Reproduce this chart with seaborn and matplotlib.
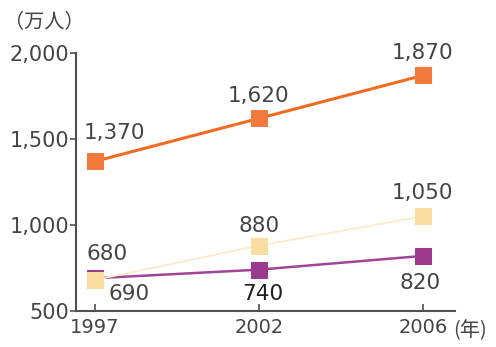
import matplotlib
matplotlib.use("Agg")
import matplotlib.pyplot as plt
import seaborn as sns
import pandas as pd

years = ["1997", "2002", "2006"]
series_a = [1370, 1620, 1870]
series_b = [680, 880, 1050]
series_c = [690, 740, 820]
y_ticks = [500, 1000, 1500, 2000]

sns.set_style("ticks")
plt.rcParams['font.family'] = ['DejaVu Sans', 'Noto Sans CJK JP']

df = pd.DataFrame({
    "year": years * 3,
    "pos": [0, 1, 2] * 3,
    "value": series_a + series_b + series_c,
    "series": ["a"] * 3 + ["b"] * 3 + ["c"] * 3,
})

colors = {"a": "#F27A3C", "b": "#F8DCA0", "c": "#9C3A8E"}
line_colors = {"a": "#F26B21", "b": "#FAEBCB", "c": "#A0449A"}
widths = {"a": 2.2, "b": 1.3, "c": 1.8}

fig = plt.figure(figsize=(4.96, 3.47), dpi=100)
ax = fig.add_axes([0.153, 0.104, 0.764, 0.743])

for s in ["c", "b", "a"]:
    sub = df[df.series == s]
    sns.lineplot(data=sub, x="pos", y="value", ax=ax, color=line_colors[s],
                 linewidth=widths[s], marker="s", markersize=11.5,
                 markerfacecolor=colors[s], markeredgecolor=colors[s], legend=False)

ax.set_xlim(-0.116, 2.195)
ax.set_ylim(500, 2000)
ax.set_xticks([0, 1, 2])
ax.set_xticklabels(years)
ax.set_yticks(y_ticks)
ax.set_yticklabels([f"{v:,}" for v in y_ticks])
ax.set_xlabel("")
ax.set_ylabel("")
for sp in ["top", "right"]:
    ax.spines[sp].set_visible(False)
for sp in ["left", "bottom"]:
    ax.spines[sp].set_color("#505050")
    ax.spines[sp].set_linewidth(1.5)
tc = "#444444"
ax.tick_params(axis="x", direction="in", length=5, width=1.2, colors="#505050",
               labelsize=14, pad=5, labelcolor=tc)
ax.tick_params(axis="y", direction="out", length=4, width=1.2, colors="#505050",
               labelsize=15, pad=1, labelcolor=tc)

fs = 15.5
px = 0.72  # pixel -> point at 100 dpi
offs_a = [(20, 28), (0, 22), (0, 22)]
offs_b = [(12, 26), (0, 20), (0, 23)]
offs_c = [(34, -16), (4, -24), (-3, -27)]
for vals, offs, s in [(series_a, offs_a, "a"), (series_b, offs_b, "b"), (series_c, offs_c, "c")]:
    for i, v in enumerate(vals):
        col = "#1e1e1e" if (s == "c" and i == 1) else tc
        ax.annotate(f"{v:,}", xy=(i, v), xytext=(offs[i][0] * px, offs[i][1] * px),
                    textcoords="offset points", ha="center", va="center",
                    fontsize=fs, color=col)

fig.text(0.008, 0.935, "（万人）", fontsize=14.5, color=tc, ha="left", va="center",
         family=['Noto Sans CJK JP', 'DejaVu Sans'])
fig.text(0.913, 0.047, "(年)", fontsize=14.5, color=tc, ha="left", va="center",
         family=['Noto Sans CJK JP', 'DejaVu Sans'])

fig.savefig("out.png", dpi=100)
